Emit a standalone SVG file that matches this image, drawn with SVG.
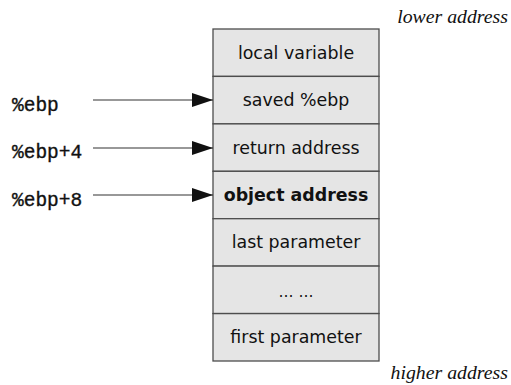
<svg xmlns="http://www.w3.org/2000/svg" width="511" height="385" viewBox="0 0 511 385">
<style>
.cell{fill:#e5e5e5;stroke:#4d4d4d;stroke-width:1.3}
.lbl{font-family:"DejaVu Sans","Verdana",sans-serif;font-size:17.4px;fill:#111;text-anchor:middle}
.bold{font-weight:bold}
.reg{font-family:"Liberation Mono","Courier New",monospace;font-size:19.5px;fill:#111;stroke:#111;stroke-width:0.35}
.addr{font-family:"Liberation Serif","Times New Roman",serif;font-style:italic;font-size:19.8px;fill:#111;text-anchor:end}
.conn{stroke:#333;stroke-width:1.2;fill:none;marker-end:url(#ah)}
</style>
<defs>
<marker id="ah" viewBox="0 0 21 14" refX="21" refY="7" markerWidth="21" markerHeight="14" markerUnits="userSpaceOnUse" orient="auto">
<path d="M0,0 L21,7 L0,14 z" fill="#111"/>
</marker>
</defs>
<rect width="511" height="385" fill="#fff"/>
<text class="addr" x="508" y="23">lower address</text>
<text class="addr" x="508" y="379">higher address</text>
<g id="row-local"><rect class="cell" x="213" y="29" width="166" height="47.4"/><text class="lbl" x="296" y="58.7">local variable</text></g>
<g id="row-saved"><rect class="cell" x="213" y="76.4" width="166" height="47.4"/><text class="lbl" x="296" y="106.1">saved %ebp</text></g>
<g id="row-return"><rect class="cell" x="213" y="123.9" width="166" height="47.4"/><text class="lbl" x="296" y="153.6">return address</text></g>
<g id="row-object"><rect class="cell" x="213" y="171.3" width="166" height="47.4"/><text class="lbl bold" x="296" y="201">object address</text></g>
<g id="row-last"><rect class="cell" x="213" y="218.7" width="166" height="47.4"/><text class="lbl" x="296" y="248.4">last parameter</text></g>
<g id="row-dots"><rect class="cell" x="213" y="266.1" width="166" height="47.4"/><text class="lbl" x="296" y="297" style="font-size:15px">… …</text></g>
<g id="row-first"><rect class="cell" x="213" y="313.6" width="166" height="47.4"/><text class="lbl" x="296" y="343.3">first parameter</text></g>
<g id="reg-ebp"><text class="reg" x="12" y="111">%ebp</text></g>
<g id="reg-ebp4"><text class="reg" x="12" y="158">%ebp+4</text></g>
<g id="reg-ebp8"><text class="reg" x="12" y="206">%ebp+8</text></g>
<g id="connectors">
<line class="conn" x1="93" y1="100" x2="213" y2="100"/>
<line class="conn" x1="93" y1="148" x2="213" y2="148"/>
<line class="conn" x1="93" y1="195" x2="213" y2="195"/>
</g>
</svg>
